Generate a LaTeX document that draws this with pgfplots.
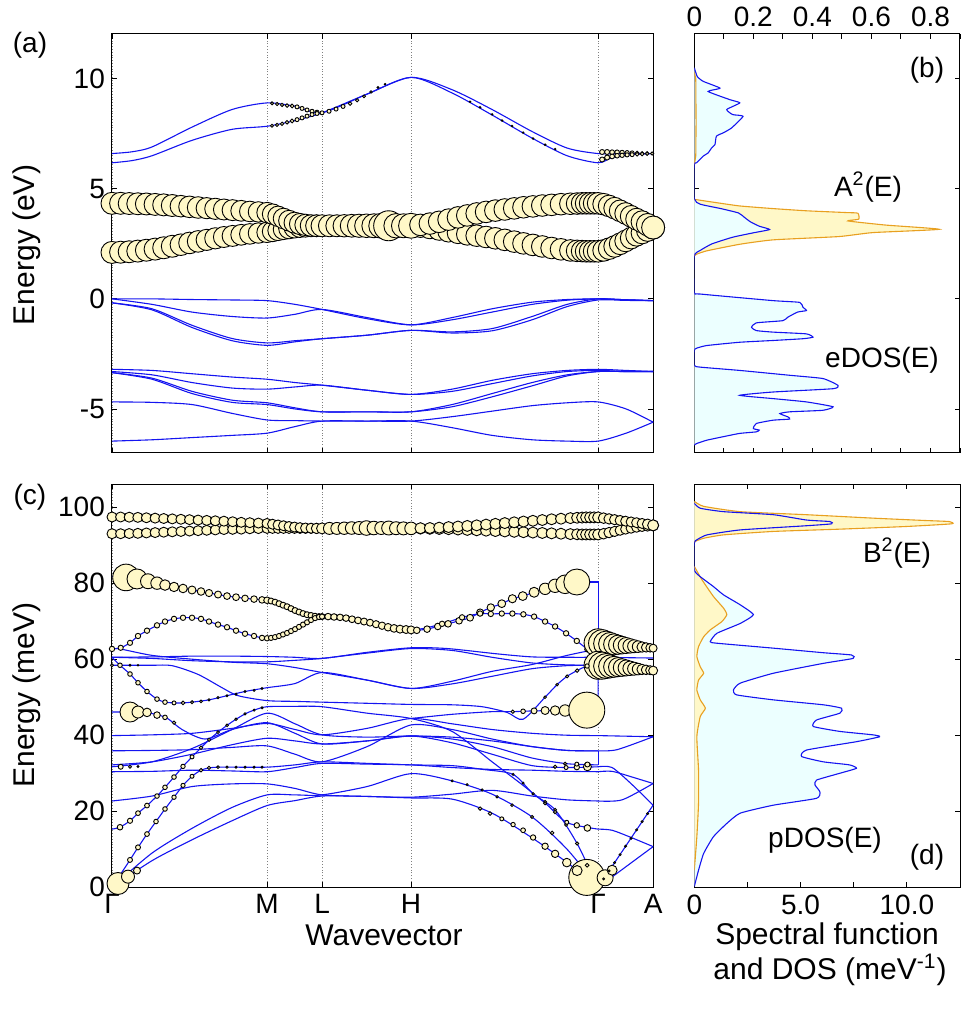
\documentclass[border=0pt]{standalone}
\usepackage{fontspec}
\setmainfont{Liberation Sans}
\usepackage{pgfplots}
\usepackage{pgfplotstable}
\pgfplotsset{compat=1.18}
\definecolor{cream}{RGB}{255,248,200}
\definecolor{lcyan}{RGB}{236,255,255}
\definecolor{dorange}{RGB}{232,160,32}
\definecolor{bblue}{RGB}{20,20,240}
\pgfplotsset{
  every axis/.append style={scale only axis, anchor=south west,
    tick label style={font=\fontsize{14}{16}\selectfont},
    major tick length=2.4pt, line width=0.5pt,
    tick style={black, line width=0.45pt}},
  bl/.style={color=bblue, line width=0.55pt, smooth, tension=0.45, no markers},
  bls/.style={color=bblue, line width=0.55pt, no markers},
  dos/.style={smooth, tension=0.3, line width=0.55pt, no markers},
  bub/.style={scatter, only marks, mark=*,
    scatter/use mapped color={draw=black, fill=cream},
    visualization depends on={0.5*\thisrow{r} \as \rr},
    scatter/@pre marker code/.append style={/tikz/mark size=\rr},
    mark options={line width=0.45pt}},
}
% ---------- top panel bubble bands (x: path position, y: eV, r: radius px)
\pgfplotstableread[row sep=\\]{
x y r\\
0 4.34 11\\ 8.6 4.34 11\\ 17.2 4.33 11\\ 25.8 4.32 11\\ 34.4 4.31 11\\ 43.1 4.29 11\\
51.7 4.27 11\\ 60.3 4.24 11\\ 68.9 4.21 10.8\\ 77.5 4.18 10.8\\ 86.1 4.15 10.8\\ 94.7 4.12 10.6\\
103.3 4.09 10.6\\ 111.9 4.06 10.5\\ 120.6 4.03 10.5\\ 129.2 4.0 10.4\\ 137.8 3.97 10.3\\
146.4 3.95 10.2\\ 155 3.92 10.2\\ 160.5 3.85 10.2\\ 166 3.75 10.2\\ 171.5 3.65 10.3\\
177 3.55 10.4\\ 182.5 3.46 10.5\\ 188 3.4 10.6\\ 193.5 3.36 10.7\\ 199 3.33 10.8\\
204.5 3.32 10.9\\ 210 3.32 11\\ 217.4 3.32 11\\ 224.8 3.32 11\\ 232.2 3.32 11.2\\
239.6 3.32 11.4\\ 247 3.32 11.6\\ 254.4 3.32 11.8\\ 261.8 3.32 12\\ 269.2 3.32 12.5\\
276.6 3.32 15\\ 284 3.32 12.2\\ 291.4 3.32 12\\ 299 3.32 12.5\\ 308.4 3.36 10.8\\
317.8 3.42 10.8\\ 327.1 3.5 10.8\\ 336.5 3.6 10.8\\ 345.9 3.7 10.8\\ 355.2 3.79 10.8\\
364.6 3.88 10.8\\ 374 3.95 10.8\\ 383.3 4.01 10.8\\ 392.7 4.06 10.8\\ 402.1 4.11 10.8\\
411.4 4.16 10.8\\ 420.8 4.2 10.8\\ 430.2 4.24 10.8\\ 439.5 4.27 10.8\\ 448.9 4.3 10.8\\
458.3 4.32 10.8\\ 465 4.33 10.8\\ 470 4.34 10.8\\ 474 4.34 10.8\\ 478 4.34 10.8\\
482 4.34 10.8\\ 486 4.34 10.8\\ 491.5 4.3 10.8\\ 497 4.22 10.8\\ 502.5 4.12 10.8\\
508 4.0 10.8\\ 513.5 3.88 10.8\\ 519 3.75 10.8\\ 524.5 3.62 10.9\\ 530 3.5 11\\
535.5 3.37 11.2\\ 541 3.24 11.5\\
}\tBA
\pgfplotstableread[row sep=\\]{
x y r\\
0 2.11 11\\ 8.6 2.12 11\\ 17.2 2.14 11\\ 25.8 2.17 11\\ 34.4 2.21 11\\ 43.1 2.26 11\\
51.7 2.32 11\\ 60.3 2.39 11\\ 68.9 2.46 10.8\\ 77.5 2.54 10.8\\ 86.1 2.61 10.8\\
94.7 2.68 10.6\\ 103.3 2.75 10.6\\ 111.9 2.81 10.5\\ 120.6 2.86 10.5\\ 129.2 2.91 10.4\\
137.8 2.95 10.3\\ 146.4 2.99 10.2\\ 155 3.02 10.2\\ 160.5 3.06 10.2\\ 166 3.11 10.2\\
171.5 3.16 10.3\\ 177 3.2 10.4\\ 182.5 3.24 10.5\\ 188 3.27 10.6\\ 193.5 3.29 10.7\\
199 3.31 10.8\\ 204.5 3.32 10.9\\ 210 3.32 0\\ 254.4 3.32 0\\ 299 3.32 0\\
308.4 3.28 10.8\\ 317.8 3.22 10.8\\ 327.1 3.15 10.8\\ 336.5 3.07 10.8\\ 345.9 3.0 10.8\\
355.2 2.93 10.8\\ 364.6 2.87 10.8\\ 374 2.81 10.8\\ 383.3 2.75 10.8\\ 392.7 2.68 10.8\\
402.1 2.6 10.8\\ 411.4 2.52 10.8\\ 420.8 2.45 10.8\\ 430.2 2.38 10.8\\ 439.5 2.31 10.8\\
448.9 2.25 10.8\\ 458.3 2.2 10.8\\ 465 2.18 10.8\\ 470 2.17 10.8\\ 474 2.16 10.8\\
478 2.16 10.8\\ 482 2.16 10.8\\ 486 2.16 10.8\\ 491.5 2.2 10.8\\ 497 2.28 10.8\\
502.5 2.38 10.8\\ 508 2.5 10.8\\ 513.5 2.63 10.8\\ 519 2.76 10.8\\ 524.5 2.89 10.9\\
530 3.0 11\\ 535.5 3.12 11.2\\ 541 3.24 11.5\\
}\tBB
\pgfplotstableread[row sep=\\]{
x y r\\
160 8.88 1.5\\ 165 8.85 1.6\\ 170 8.81 1.7\\ 175 8.78 1.8\\ 180 8.76 1.9\\ 185 8.72 2\\
190 8.65 2\\ 195 8.58 2\\ 200 8.52 2\\ 205 8.48 2\\ 210 8.45 2\\
160 7.86 1.5\\ 165 7.9 1.6\\ 170 7.95 1.7\\ 175 8.02 1.8\\ 180 8.08 1.9\\ 185 8.14 2\\
190 8.22 2\\ 195 8.3 2\\ 200 8.37 2\\ 205 8.42 2\\
217 8.52 2\\ 224 8.62 2\\ 231 8.74 2\\ 238 8.87 1.8\\ 245 9.02 1.6\\ 252 9.2 1.4\\
259 9.4 1.2\\ 266 9.6 1\\ 273 9.75 0.8\\
358 8.95 0.8\\ 368 8.7 0.8\\ 380 8.38 0.8\\ 390 8.1 0.8\\ 400 7.85 0.8\\ 411 7.55 0.8\\
421 7.28 0.8\\ 433 7.0 0.8\\ 443 6.8 0.8\\
490 6.67 2.5\\ 495 6.67 2.5\\ 500 6.66 2.4\\ 505 6.66 2.3\\ 510 6.65 2.2\\ 515 6.64 2.1\\
520 6.63 2\\ 525 6.62 1.9\\ 530 6.61 1.8\\ 535 6.61 1.7\\ 540 6.6 1.6\\
490 6.33 2.5\\ 495 6.42 2.5\\ 500 6.47 2.4\\ 505 6.5 2.3\\ 510 6.52 2.2\\ 515 6.54 2.1\\
520 6.55 2\\ 525 6.57 1.9\\ 530 6.58 1.8\\ 535 6.59 1.7\\
}\tSC
% ---------- bottom panel bubble bands (meV)
\pgfplotstableread[row sep=\\]{
x y r\\
0 97.4 5\\ 8.6 97.4 5\\ 17.2 97.35 5\\ 25.8 97.3 5\\ 34.4 97.2 5\\ 43.1 97.1 5\\
51.7 97.0 5\\ 60.3 96.9 5\\ 68.9 96.8 5\\ 77.5 96.7 5\\ 86.1 96.6 5\\ 94.7 96.5 5\\
103.3 96.4 5\\ 111.9 96.3 5\\ 120.6 96.15 5\\ 129.2 96.0 5\\ 137.8 95.9 5\\ 146.4 95.8 5\\
155 95.7 5\\ 160.5 95.5 5\\ 166 95.3 5\\ 171.5 95.1 5\\ 177 94.9 5\\ 182.5 94.75 5\\
188 94.6 5\\ 193.5 94.5 5\\ 199 94.45 5\\ 204.5 94.4 5.2\\ 210 94.4 5.5\\ 217.4 94.4 6\\
224.8 94.4 6\\ 232.2 94.45 6.2\\ 239.6 94.5 6.3\\ 247 94.5 6.5\\ 254.4 94.5 7.3\\
261.8 94.5 6.8\\ 269.2 94.5 6.5\\ 276.6 94.5 7\\ 284 94.45 6.5\\ 291.4 94.4 6.5\\
299 94.4 6.3\\ 308.4 94.45 5.5\\ 317.8 94.5 5.5\\ 327.1 94.6 5.5\\ 336.5 94.75 5.5\\
345.9 94.9 5.5\\ 355.2 95.05 5.5\\ 364.6 95.2 5.5\\ 374 95.4 5.5\\ 383.3 95.6 5.5\\
392.7 95.8 5.5\\ 402.1 96.0 5.5\\ 411.4 96.2 5.5\\ 420.8 96.4 5.5\\ 430.2 96.6 5.5\\
439.5 96.8 5.5\\ 448.9 96.95 5.5\\ 458.3 97.1 5.5\\ 465 97.2 5.5\\ 470 97.25 5.5\\
474 97.3 5.5\\ 478 97.3 5.5\\ 482 97.3 5.5\\ 486 97.3 5.5\\ 491.5 97.1 5.3\\
497 96.9 5.2\\ 502.5 96.7 5.1\\ 508 96.5 5\\ 513.5 96.3 5\\ 519 96.1 5\\ 524.5 95.9 5\\
530 95.7 5\\ 535.5 95.5 5.2\\ 541 95.2 5.5\\
}\tBone
\pgfplotstableread[row sep=\\]{
x y r\\
0 93.0 5\\ 8.6 93.0 5\\ 17.2 93.05 5\\ 25.8 93.1 5\\ 34.4 93.2 5\\ 43.1 93.3 5\\
51.7 93.4 5\\ 60.3 93.5 5\\ 68.9 93.6 5\\ 77.5 93.7 5\\ 86.1 93.8 5\\ 94.7 93.9 5\\
103.3 94.0 5\\ 111.9 94.1 5\\ 120.6 94.15 5\\ 129.2 94.2 5\\ 137.8 94.3 5\\ 146.4 94.35 5\\
155 94.4 5\\ 160.5 94.4 5\\ 166 94.4 5\\ 171.5 94.4 5\\ 177 94.4 5\\ 182.5 94.4 5\\
188 94.4 5\\ 193.5 94.4 5\\ 199 94.4 5\\ 204.5 94.4 5\\ 210 94.4 0\\ 254.4 94.45 0\\
299 94.4 0\\ 308.4 94.35 5.5\\ 317.8 94.3 5.5\\ 327.1 94.25 5.5\\ 336.5 94.2 5.5\\
345.9 94.1 5.5\\ 355.2 94.0 5.5\\ 364.6 93.9 5.5\\ 374 93.8 5.5\\ 383.3 93.7 5.5\\
392.7 93.6 5.5\\ 402.1 93.5 5.5\\ 411.4 93.4 5.5\\ 420.8 93.3 5.5\\ 430.2 93.2 5.5\\
439.5 93.1 5.5\\ 448.9 93.0 5.5\\ 458.3 92.9 5.5\\ 465 92.85 5.5\\ 470 92.8 5.5\\
474 92.8 5.5\\ 478 92.8 5.5\\ 482 92.8 5.5\\ 486 92.8 5.5\\ 491.5 93.0 5.3\\
497 93.3 5.2\\ 502.5 93.6 5.1\\ 508 93.9 5\\ 513.5 94.2 5\\ 519 94.45 5\\ 524.5 94.7 5\\
530 94.9 5\\ 535.5 95.05 5.2\\ 541 95.2 5.5\\
}\tBtwo
\pgfplotstableread[row sep=\\]{
x y r\\
0 81.7 0\\ 14 81.5 13.3\\ 25 81.1 10\\ 36 80.5 7.5\\ 45 80.0 6.2\\ 53 79.5 5.3\\
62 79.0 4.7\\ 71 78.6 4.3\\ 80 78.2 4\\ 89 77.8 3.8\\ 97 77.4 3.6\\ 106 77.0 3.5\\
115 76.6 3.4\\ 124 76.3 3.4\\ 133 76.0 3.3\\ 142 75.8 3.3\\ 150 75.6 3.3\\ 155 75.5 3.3\\
159 75.3 3\\ 163 75.0 3\\ 167 74.6 3\\ 171 74.2 3\\ 175 73.8 3\\ 179 73.3 3\\ 183 72.8 3\\
187 72.4 3\\ 191 72.0 3\\ 195 71.7 3\\ 199 71.5 3\\ 203 71.3 3\\ 207 71.2 3\\ 210 71.2 3\\
216 71.2 3.3\\ 222 71.1 3.3\\ 228 71.0 3.3\\ 234 70.8 3.3\\ 240 70.5 3.4\\ 246 70.2 3.4\\
252 69.9 3.5\\ 258 69.6 3.5\\ 264 69.2 3.6\\ 270 68.8 3.7\\ 276 68.4 3.8\\ 282 68.1 3.9\\
288 67.9 4\\ 294 67.8 4\\ 299 67.7 4\\ 304.7 67.6 3.3\\ 315 67.9 3.3\\ 325.7 68.6 3.3\\
336 69.3 3.3\\ 347 70.1 3.3\\ 358 70.9 3.4\\ 368 72.3 3.5\\ 378.7 73.6 3.7\\ 389.7 74.6 3.9\\
400.3 75.9 4.1\\ 410.7 76.6 4.4\\ 422 77.6 5\\ 433 78.5 5.7\\ 443 79.3 6.7\\ 453 79.7 9.3\\
464.7 80.3 13\\
}\tPone
\pgfplotstableread[row sep=\\]{
x y r\\
0 62.7 2.7\\ 8.7 63.0 2.6\\ 18 64.3 2.6\\ 26 66.1 2.7\\ 35 67.5 2.7\\ 45 68.9 2.7\\
53 69.9 2.7\\ 62 70.6 2.7\\ 71 70.9 2.7\\ 80 70.9 2.7\\ 89 70.6 2.7\\ 97 69.9 2.7\\
106 69.1 2.7\\ 115 68.4 2.7\\ 124 67.5 2.7\\ 133 66.7 2.7\\ 142 66.1 2.7\\ 150 65.6 2.7\\
155 65.5 2.7\\ 159 65.6 2.6\\ 163 65.8 2.6\\ 167 66.1 2.6\\ 171 66.5 2.6\\ 175 66.9 2.6\\
179 67.4 2.6\\ 183 67.9 2.6\\ 187 68.5 2.6\\ 191 69.1 2.6\\ 195 69.7 2.6\\ 199 70.3 2.6\\
203 70.8 2.6\\ 207 71.1 2.6\\ 210 71.2 2.6\\ 255 69.7 0\\ 299 67.7 0\\ 330 69.3 2.7\\
350 71.0 2.7\\ 368 72.0 2.7\\ 378.7 71.9 2.7\\ 389.7 72.0 2.7\\ 400.3 72.0 2.7\\
411.3 71.8 2.7\\ 422 71.2 2.7\\ 433 69.9 2.7\\ 443 68.6 2.7\\ 454 66.8 2.7\\
464.7 64.8 2.7\\ 475.3 62.6 2.7\\ 486 60.5 0\\
}\tPtwo
\pgfplotstableread[row sep=\\]{
x y r\\
486 64.3 14\\ 490 64.2 13.5\\ 494 64.1 12.5\\ 498 64.0 11.5\\ 502 63.9 10.5\\
506 63.8 9.6\\ 510 63.7 8.8\\ 514 63.6 8\\ 518 63.5 7.2\\ 522 63.4 6.5\\ 526 63.3 5.8\\
530 63.2 5.2\\ 534 63.1 4.7\\ 538 63.0 4.3\\ 541 62.9 4\\
}\tConeA
\pgfplotstableread[row sep=\\]{
x y r\\
486 58.4 14\\ 490 58.3 13.5\\ 494 58.2 12.5\\ 498 58.1 11.5\\ 502 58.0 10.5\\
506 57.9 9.6\\ 510 57.8 8.8\\ 514 57.7 8\\ 518 57.6 7.2\\ 522 57.5 6.5\\ 526 57.4 5.8\\
530 57.3 5.2\\ 534 57.2 4.8\\ 538 57.1 4.5\\ 541 57.0 4.5\\
}\tConeB
\pgfplotstableread[row sep=\\]{
x y r\\
6 1.0 11\\ 16 2.8 6.5\\ 25 4.4 3.5\\
474.7 2.6 18\\ 493 2.5 8\\ 500 4.5 5\\
18 46.1 10\\ 26 46.1 6\\ 35 46.0 4.3\\ 45 45.3 3.3\\ 53 44.7 2.3\\ 62 43.3 1.7\\
8 15.8 2.8\\ 18 17.5 2.6\\ 26 19.5 2.4\\ 35 21.5 2.4\\ 45 24 2.3\\ 53 26.3 2.3\\
62 29 2.3\\ 71 31.8 2.2\\ 80 34.3 2\\ 89 36.7 1.8\\ 97 38.8 1.6\\ 106 40.8 1.4\\
115 42.6 1.3\\ 124 44.2 1.2\\ 133 45.6 1.1\\ 142 46.6 1\\ 150 47.2 1\\
18 7.2 2.5\\ 26 10.5 2.5\\ 35 14 2.4\\ 44 17.3 2.3\\ 53 20.6 2.3\\ 62 23.7 2.2\\
71 26.8 2.1\\ 80 29.2 2\\ 89 30.8 1.8\\ 97 31.4 1.6\\ 106 31.6 1.3\\ 115 31.6 1.1\\
124 31.6 1\\ 133 31.6 1\\ 142 31.6 1\\ 150 31.6 1\\
8 58.4 2.3\\ 18 56.1 2.3\\ 26 53.8 2.3\\ 35 51.5 2.3\\ 45 49.5 2.3\\ 53 48.7 2.3\\
62 48.5 2\\ 71 48.5 1.8\\ 80 48.7 1.5\\ 89 48.9 1.3\\ 97 49.3 1.2\\ 106 49.9 1.1\\
115 50.4 1\\ 124 50.8 1\\ 133 51.5 1\\ 142 51.8 1\\ 150 52.3 1\\
0 58.4 1.5\\ 18 58.4 1\\ 26 58.4 0.8\\
8.7 31.7 2.5\\ 18 31.7 1.5\\ 26 31.8 1\\
368 20.7 1.7\\ 378 19.4 1.8\\ 389.7 18.0 2\\ 401 16.5 2.2\\ 411 15.0 2.4\\ 421 13.1 2.7\\
433 10.8 3.2\\ 443 8.8 3.7\\ 454.7 6.5 4.3\\ 465 4.4 5\\
340 28 1\\ 355 27 1\\ 370 25.6 1.1\\ 385 23.8 1.2\\ 400 21.6 1.3\\ 420 18.5 1.5\\ 440 14.3 1.8\\
401 29.7 1\\ 411 27.4 1\\ 421 24.6 1.2\\ 433 22.5 1.3\\ 443 20.4 1.4\\ 454 16.4 1.5\\
465 11.5 1.6\\ 475 5.8 1.8\\
433 22.1 1.5\\ 443 19.8 1.7\\ 454.7 17.1 2\\ 464.7 16.3 2.7\\ 475.3 15.6 3.3\\
443 31.7 1.7\\ 454 31.5 2\\ 464.7 31.6 2.7\\ 475.3 31.7 4\\
453 32.5 1.5\\ 464.7 32.4 2\\ 475.3 32.3 2.5\\
433 50 1.3\\ 445 53.3 1.3\\ 455 55.5 1.5\\ 465 57 1.8\\ 475 58.2 2.2\\
400.7 46.2 1.7\\ 411 46.3 2.3\\ 422 46.4 3\\ 433 46.5 4\\ 443 46.5 4.7\\ 453 46.5 5.7\\
474.7 46.6 18\\
491.5 2.2 1\\ 497 4.3 1\\ 502.5 6.5 1\\ 508 8.6 1\\ 513.5 10.8 1\\ 519 12.9 1\\
524.5 15.1 1\\ 530 17.3 1\\ 535.5 19.4 1\\
}\tSmall
% ---------- DOS curves (value, energy)
\pgfplotstableread[row sep=\\]{
v E\\
0 10.5\\ 0.01 10.1\\ 0.03 9.88\\ 0.087 9.57\\ 0.047 9.42\\ 0.12 9.05\\ 0.154 8.9\\
0.11 8.6\\ 0.13 8.37\\ 0.165 8.29\\ 0.126 7.76\\ 0.098 7.54\\ 0.075 7.39\\ 0.07 7.01\\
0.059 6.86\\ 0.047 6.63\\ 0.03 6.48\\ 0.008 6.18\\ 0 6.1\\ 0 4.55\\ 0.02 4.3\\ 0.09 4.1\\
0.15 3.9\\ 0.17 3.7\\ 0.19 3.5\\ 0.22 3.3\\ 0.255 3.15\\ 0.2 3.0\\ 0.13 2.8\\ 0.06 2.5\\
0.02 2.2\\ 0 1.95\\ 0 0.3\\ 0.02 0.22\\ 0.267 -0.08\\ 0.357 -0.16\\ 0.368 -0.38\\
0.38 -0.53\\ 0.35 -0.6\\ 0.317 -0.83\\ 0.3 -0.99\\ 0.21 -1.09\\ 0.194 -1.29\\ 0.21 -1.44\\
0.267 -1.51\\ 0.38 -1.59\\ 0.402 -1.74\\ 0.368 -1.81\\ 0.267 -1.89\\ 0.154 -1.97\\
0.042 -2.12\\ 0.008 -2.24\\ 0 -2.34\\ 0 -3.02\\ 0.02 -3.1\\ 0.154 -3.25\\ 0.323 -3.47\\
0.436 -3.62\\ 0.487 -3.93\\ 0.47 -4.08\\ 0.267 -4.23\\ 0.154 -4.38\\ 0.267 -4.53\\
0.38 -4.68\\ 0.47 -4.9\\ 0.436 -5.06\\ 0.323 -5.13\\ 0.29 -5.21\\ 0.317 -5.36\\
0.323 -5.46\\ 0.267 -5.51\\ 0.21 -5.66\\ 0.2 -5.89\\ 0.22 -5.96\\ 0.21 -6.04\\
0.154 -6.11\\ 0.098 -6.26\\ 0.042 -6.42\\ 0.008 -6.57\\ 0 -6.64\\
}\tEDOS
\pgfplotstableread[row sep=\\]{
v E\\
0 4.52\\ 0.075 4.37\\ 0.154 4.22\\ 0.267 4.1\\ 0.38 4.0\\ 0.515 3.92\\ 0.554 3.89\\
0.557 3.62\\ 0.52 3.54\\ 0.65 3.35\\ 0.83 3.16\\ 0.605 3.01\\ 0.49 2.83\\ 0.267 2.68\\
0.154 2.48\\ 0.042 2.18\\ 0.008 2.03\\ 0 1.95\\
}\tAsq
\pgfplotstableread[row sep=\\]{
v E\\
0 101.0\\ 0.28 99.7\\ 1.38 98.8\\ 3.72 98.0\\ 5.28 96.6\\ 6.38 96.2\\ 6.46 95.6\\
5.28 95.1\\ 2.16 94.0\\ 0.6 92.7\\ 0.12 91.4\\ 0 90.5\\ 0 83.5\\ 0.28 81.7\\ 0.9 79.1\\
1.38 76.9\\ 2.16 74.3\\ 2.78 71.7\\ 2.16 69.4\\ 1.06 66.8\\ 0.75 64.6\\ 1.06 64.2\\
3.72 62.9\\ 6.07 61.7\\ 7.4 61.1\\ 7.47 60.2\\ 6.07 58.9\\ 3.72 56.3\\ 2.16 53.7\\
1.84 51.9\\ 2.0 50.6\\ 3.72 49.3\\ 6.07 48.0\\ 6.93 47.1\\ 6.85 45.8\\ 5.75 44.0\\
5.6 42.3\\ 6.85 41.0\\ 8.4 40.1\\ 8.72 39.6\\ 7.63 38.3\\ 5.28 36.1\\ 5.05 34.4\\
6.07 33.0\\ 7.3 32.2\\ 7.63 31.3\\ 6.85 30.0\\ 5.75 28.2\\ 5.68 26.9\\ 5.91 25.1\\
5.75 23.4\\ 3.72 21.6\\ 2.16 19.5\\ 1.53 16.8\\ 0.9 13.3\\ 0.44 8.9\\ 0.2 4.5\\ 0 0.2\\
}\tPDOS
\pgfplotstableread[row sep=\\]{
v E\\
0 101.5\\ 0.44 100.2\\ 2.16 98.8\\ 5.28 98.0\\ 8.4 97.1\\ 10.76 96.5\\ 12.0 96.2\\
12.1 95.6\\ 9.97 94.9\\ 6.85 94.2\\ 3.72 93.6\\ 1.38 92.7\\ 0.44 91.8\\ 0 90.9\\
}\tBsqTop
\pgfplotstableread[row sep=\\]{
v E\\
0 84.4\\ 0.36 80.9\\ 0.9 76.5\\ 1.38 73.4\\ 1.53 71.7\\ 1.3 69.9\\ 0.75 67.7\\ 0.44 65.9\\
0.2 63.3\\ 0.12 60.7\\ 0.28 58.0\\ 0.44 56.3\\ 0.2 54.5\\ 0.12 51.9\\ 0.28 49.3\\
0.52 47.1\\ 0.28 44.9\\ 0.12 39.6\\ 0.2 30.8\\ 0.2 22.1\\ 0.12 13.3\\ 0 4.5\\
}\tBsqLow
\begin{document}
\begin{tikzpicture}
% ================= (a) electron bands
\begin{axis}[at={(56pt,280pt)}, width=270.5pt, height=209.5pt,
  xmin=0, xmax=541, ymin=-7, ymax=12.03, clip=false,
  xtick={0,155,210,299,486,541}, xticklabels={},
  ytick={-5,0,5,10}, yticklabels={-5,0,5,10},
  xmajorgrids, grid style={densely dotted, gray, line width=0.4pt}]
\addplot[bub] table[x=x,y=y]{\tBB};
\addplot[bub] table[x=x,y=y]{\tBA};
\addplot[bub] table[x=x,y=y]{\tSC};
\addplot[bl] table[x=x,y=y]{\tBA};
\addplot[bl] table[x=x,y=y]{\tBB};
\addplot[bl] coordinates {(0,6.6)(20,6.68)(40,6.9)(80,7.8)(120,8.6)(155,8.9)(183,8.75)(210,8.45)(255,9.3)(299,10.06)(340,9.5)(380,8.6)(420,7.6)(455,6.85)(486,6.6)(514,6.6)(541,6.6)};
\addplot[bl] coordinates {(0,6.18)(20,6.28)(40,6.5)(80,7.2)(120,7.7)(155,7.84)(183,8.1)(210,8.45)(255,9.3)(299,10.06)(340,9.35)(380,8.35)(420,7.3)(455,6.5)(486,6.18)(500,6.42)(520,6.55)(541,6.6)};
\addplot[bl] coordinates {(0,0)(40,0)(80,-0.03)(120,-0.05)(155,-0.08)(183,-0.25)(210,-0.48)(255,-0.9)(299,-1.18)(340,-0.85)(380,-0.45)(420,-0.15)(455,-0.03)(486,0)(514,-0.04)(541,-0.08)};
\addplot[bl] coordinates {(0,0)(40,-0.25)(80,-0.6)(120,-0.8)(155,-0.87)(183,-0.7)(210,-0.48)(255,-0.85)(299,-1.18)(340,-0.95)(380,-0.6)(420,-0.25)(455,-0.06)(486,0)(514,-0.04)(541,-0.08)};
\addplot[bl] coordinates {(0,-0.18)(40,-0.45)(80,-1.2)(120,-1.8)(155,-2.0)(183,-1.9)(210,-1.81)(255,-1.65)(299,-1.43)(340,-1.5)(380,-1.35)(420,-0.8)(455,-0.25)(486,0)(514,-0.05)(541,-0.08)};
\addplot[bl] coordinates {(0,-0.18)(40,-0.5)(80,-1.3)(120,-1.9)(155,-2.11)(183,-1.95)(210,-1.81)(255,-1.65)(299,-1.43)(340,-1.55)(380,-1.45)(420,-0.95)(455,-0.35)(486,-0.05)(514,-0.07)(541,-0.08)};
\addplot[bl] coordinates {(0,-3.2)(40,-3.25)(80,-3.4)(120,-3.55)(155,-3.65)(183,-3.8)(210,-3.92)(255,-4.15)(299,-4.34)(340,-4.1)(380,-3.7)(420,-3.4)(455,-3.25)(486,-3.2)(514,-3.25)(541,-3.3)};
\addplot[bl] coordinates {(0,-3.3)(40,-3.45)(80,-3.8)(120,-4.05)(155,-4.1)(183,-4.0)(210,-3.92)(255,-4.15)(299,-4.34)(340,-4.2)(380,-3.85)(420,-3.5)(455,-3.3)(486,-3.25)(514,-3.3)(541,-3.3)};
\addplot[bl] coordinates {(0,-3.35)(40,-3.6)(80,-4.2)(120,-4.6)(155,-4.72)(183,-4.95)(210,-5.13)(255,-5.13)(299,-5.13)(340,-4.8)(380,-4.3)(420,-3.8)(455,-3.45)(486,-3.3)(514,-3.3)(541,-3.3)};
\addplot[bl] coordinates {(0,-3.35)(40,-3.65)(80,-4.3)(120,-4.7)(155,-4.8)(183,-5.0)(210,-5.13)(255,-5.13)(299,-5.13)(340,-4.9)(380,-4.45)(420,-3.95)(455,-3.5)(486,-3.3)(514,-3.3)(541,-3.3)};
\addplot[bl] coordinates {(0,-4.68)(40,-4.7)(80,-4.8)(120,-5.2)(155,-5.5)(183,-5.53)(210,-5.55)(255,-5.55)(299,-5.55)(340,-5.35)(380,-5.1)(420,-4.85)(455,-4.72)(486,-4.68)(514,-5.0)(541,-5.6)};
\addplot[bl] coordinates {(0,-6.46)(40,-6.4)(80,-6.3)(120,-6.2)(155,-6.1)(183,-5.8)(210,-5.55)(255,-5.55)(299,-5.55)(340,-5.85)(380,-6.2)(420,-6.4)(455,-6.46)(486,-6.46)(514,-6.1)(541,-5.6)};
\end{axis}
% ================= (b) eDOS and A^2
\begin{axis}[at={(347.15pt,280pt)}, width=132.85pt, height=209.5pt,
  xmin=0, xmax=0.9, ymin=-7, ymax=12.03,
  xtick={0,0.1,0.2,0.3,0.4,0.5,0.6,0.7,0.8,0.9},
  xticklabels={0,,0.2,,0.4,,0.6,,0.8,}, xticklabel pos=right,
  ytick={-5,0,5,10}, yticklabels={}]
\addplot[dos, fill=cream, draw=none] table[x=v,y=E]{\tAsq};
\addplot[dos, fill=lcyan, draw=none] table[x=v,y=E]{\tEDOS};
\addplot[color=dorange, line width=0.55pt] coordinates {(0,10.3)(0.005,10)(0.006,8)(0.005,6.5)(0,6.1)};
\addplot[dos, color=dorange] table[x=v,y=E]{\tAsq};
\addplot[dos, color=bblue] table[x=v,y=E]{\tEDOS};
\end{axis}
% ================= (c) phonon bands
\begin{axis}[at={(56pt,62.85pt)}, width=270.5pt, height=201.5pt,
  xmin=0, xmax=541, ymin=0, ymax=106, clip=false,
  xtick={0,155,210,299,486,541}, xticklabels={Γ,M,L,H,Γ,A},
  ytick={0,20,40,60,80,100}, yticklabels={0,20,40,60,80,100},
  xmajorgrids, grid style={densely dotted, gray, line width=0.4pt}]
\addplot[bub] table[x=x,y=y]{\tBtwo};
\addplot[bub] table[x=x,y=y]{\tBone};
\addplot[bub] table[x=x,y=y]{\tPone};
\addplot[bub] table[x=x,y=y]{\tPtwo};
\addplot[bub] table[x=x,y=y]{\tConeA};
\addplot[bub] table[x=x,y=y]{\tConeB};
\addplot[bub] table[x=x,y=y]{\tSmall};
\addplot[bl] table[x=x,y=y]{\tBone};
\addplot[bl] table[x=x,y=y]{\tBtwo};
\addplot[bl] table[x=x,y=y]{\tPone};
\addplot[bl] table[x=x,y=y]{\tPtwo};
\addplot[bls] coordinates {(464.7,80.3)(486,80.3)(486,64.3)};
\addplot[bls] coordinates {(486,64.3)(541,62.9)};
\addplot[bls] coordinates {(486,58.4)(541,57.0)};
\addplot[bls] coordinates {(474.7,46.6)(486,46.5)(486,58.4)};
\addplot[bls] coordinates {(486,32.2)(486,35.9)};
% acoustic and optic branches
\addplot[bl] coordinates {(0,0)(40,7)(80,12.5)(120,17.5)(155,21.5)(183,22.8)(210,24.0)(255,23.9)(299,23.5)(340,23.2)(380,19.5)(420,13.0)(455,6.5)(486,0)};
\addplot[bl] coordinates {(0,0)(40,9)(80,15.5)(120,21)(155,24.3)(183,24.3)(210,24.3)(255,26.5)(299,29.9)(340,28.0)(380,24.5)(420,18.5)(455,10)(486,0)};
\addplot[bl] coordinates {(0,0)(8,3.2)(18,7.2)(26,10.5)(35,14)(44,17.3)(53,20.6)(62,23.7)(71,26.8)(80,29.2)(89,30.8)(97,31.4)(106,31.6)(120,31.6)(155,31.6)(183,32.2)(210,33.0)(255,32.6)(299,32.2)(340,32.0)(371,31)(401,29.7)(421,24.6)(443,20.4)(465,11.5)(486,0)};
\addplot[bl] coordinates {(0,15.3)(8,15.8)(18,17.5)(26,19.5)(35,21.5)(45,24)(53,26.3)(62,29)(71,31.8)(80,34.3)(89,36.7)(97,38.8)(106,40.8)(115,42.6)(124,44.2)(133,45.6)(142,46.6)(155,47.5)(183,47.6)(210,47.5)(255,45.8)(299,44.4)(340,41)(380,33)(411,26.8)(435,21.7)(455,17)(486,15.3)};
\addplot[bl] coordinates {(0,22.7)(40,24)(80,26.5)(120,27.2)(155,27.2)(183,26)(210,24.3)(255,23.9)(299,23.7)(340,24.5)(380,25.5)(420,24)(455,23)(486,22.7)};
\addplot[bl] coordinates {(0,30.4)(40,30.5)(80,30.8)(120,30.6)(155,30.4)(183,31.5)(210,32.6)(255,32.4)(299,32.2)(340,31.5)(380,31)(420,30.8)(455,30.5)(486,30.4)};
\addplot[bl] coordinates {(0,32.2)(40,33)(80,35)(120,37.5)(155,39.2)(183,38.5)(210,37.7)(255,38.5)(299,39.8)(340,39)(380,37)(420,34)(455,32.5)(486,32.2)};
\addplot[bl] coordinates {(0,35.9)(40,36)(80,36.2)(120,36.8)(155,37.2)(183,35)(210,33.0)(255,37)(299,42.7)(340,41.5)(380,39)(420,37)(455,36)(486,35.9)};
\addplot[bl] coordinates {(0,39.9)(40,40.1)(80,40.5)(120,41.8)(155,43.1)(183,41.5)(210,40.1)(255,41.8)(299,44.4)(340,43)(380,41.5)(420,40.5)(455,40)(486,39.9)};
\addplot[bl] coordinates {(0,46.1)(20,46.1)(40,45.7)(55,44.5)(70,41.5)(93,39.0)(120,41.5)(155,43.3)(183,40.5)(210,37.7)(255,38.5)(299,39.8)(340,38)(380,35)(420,32)(455,31.5)(486,31.7)};
\addplot[bl] coordinates {(0,31.7)(40,33)(80,36.5)(120,41.5)(155,45.8)(183,43)(210,40.1)(255,39.5)(299,39.8)(340,39.5)(380,38.5)(420,37)(455,36)(486,35.9)};
\addplot[bl] coordinates {(0,58.4)(40,58.4)(60,58.3)(86,56)(110,52.5)(126,50.4)(155,49.1)(183,48.9)(210,48.7)(255,48.4)(299,48.1)(340,48)(370,47.5)(395,46)(411,44.2)(433,50)(445,53.3)(455,55.5)(465,57)(475,58.2)(486,58.4)};
\addplot[bl] coordinates {(299,44.4)(340,45.5)(380,46.2)(400.7,46.2)(422,46.4)(453,46.5)(474.7,46.6)};
\addplot[bl] coordinates {(0,60.5)(8,58.4)(18,56.1)(26,53.8)(35,51.5)(45,49.5)(53,48.7)(62,48.5)(71,48.5)(80,48.7)(97,49.3)(115,50.4)(133,51.5)(155,52.5)(183,53.6)(210,56.5)(255,54.5)(299,52.3)(340,54.2)(380,56.8)(420,58.6)(455,61.0)(486,62.7)};
\addplot[bl] coordinates {(0,62.7)(8,62.7)(40,61.0)(80,60.0)(120,59.2)(155,58.8)(183,57.8)(210,56.5)(255,54.5)(299,52.3)(340,53.5)(380,55.5)(420,57.5)(455,58.3)(486,58.4)};
\addplot[bl] coordinates {(0,60.5)(40,60.6)(80,60.8)(120,60.8)(155,60.7)(183,60.5)(210,60.2)(255,61.8)(299,63.0)(335,62.8)(385,61.4)(420,60.6)(455,60.5)(486,60.5)};
\addplot[bl] coordinates {(0,60.5)(40,60.2)(80,59.6)(120,59.3)(155,59.3)(183,59.7)(210,60.2)(255,61.6)(299,62.8)(340,62.3)(380,60.5)(420,59.0)(455,58.5)(486,58.4)};
% Gamma-A segment
\addplot[bls] coordinates {(486,0)(541,21.6)};
\addplot[bls] coordinates {(486,0)(541,10.7)};
\addplot[bl] coordinates {(486,15.3)(500,15)(520,13)(541,10.7)};
\addplot[bl] coordinates {(486,22.7)(510,23)(541,27.3)};
\addplot[bl] coordinates {(486,30.4)(500,30.5)(520,29)(541,27.3)};
\addplot[bl] coordinates {(486,31.7)(500,31.5)(520,27)(541,21.6)};
\addplot[bl] coordinates {(486,35.9)(505,36.2)(541,39.6)};
\addplot[bls] coordinates {(486,39.9)(541,39.6)};
\addplot[bls] coordinates {(486,60.5)(541,60.3)};
\addplot[bls] coordinates {(486,62.7)(541,62.9)};
\end{axis}
% ================= (d) pDOS and B^2
\begin{axis}[at={(347.15pt,62.85pt)}, width=132.85pt, height=201.5pt,
  xmin=0, xmax=12.5, ymin=0, ymax=106,
  xtick={0,2.5,5,7.5,10,12.5}, xticklabels={0,,5.0,,10.0,},
  ytick={0,20,40,60,80,100}, yticklabels={}]
\addplot[dos, fill=lcyan, draw=none] table[x=v,y=E]{\tPDOS};
\addplot[dos, fill=cream, draw=none] table[x=v,y=E]{\tBsqTop};
\addplot[dos, fill=cream, draw=none] table[x=v,y=E]{\tBsqLow};
\addplot[dos, color=dorange] table[x=v,y=E]{\tBsqTop};
\addplot[dos, color=dorange] table[x=v,y=E]{\tBsqLow};
\addplot[dos, color=bblue] table[x=v,y=E]{\tPDOS};
\end{axis}
% ================= labels
\begin{scope}[every node/.style={inner sep=0pt, font=\fontsize{14}{16}\selectfont}]
\node at (15pt,484pt) {(a)};
\node at (15pt,258pt) {(c)};
\node at (463.5pt,471.5pt) {(b)};
\node at (463.5pt,78pt) {(d)};
\node at (434pt,413pt) {A\textsuperscript{2}(E)};
\node at (441pt,326.5pt) {eDOS(E)};
\node at (448.5pt,230pt) {B\textsuperscript{2}(E)};
\node at (412.5pt,86.5pt) {pDOS(E)};
\end{scope}
\begin{scope}[every node/.style={inner sep=0pt, font=\fontsize{15}{18}\selectfont}]
\node[rotate=90] at (13.5pt,384pt) {Energy (eV)};
\node[rotate=90] at (13.5pt,159pt) {Energy (meV)};
\node at (192pt,39pt) {Wavevector};
\node at (413.5pt,38pt) {Spectral function};
\node at (415pt,21.5pt) {and DOS (meV\textsuperscript{-1})};
\end{scope}
\pgfresetboundingbox
\path[use as bounding box] (0,0) rectangle (480.5pt,506.5pt);
\end{tikzpicture}
\end{document}
